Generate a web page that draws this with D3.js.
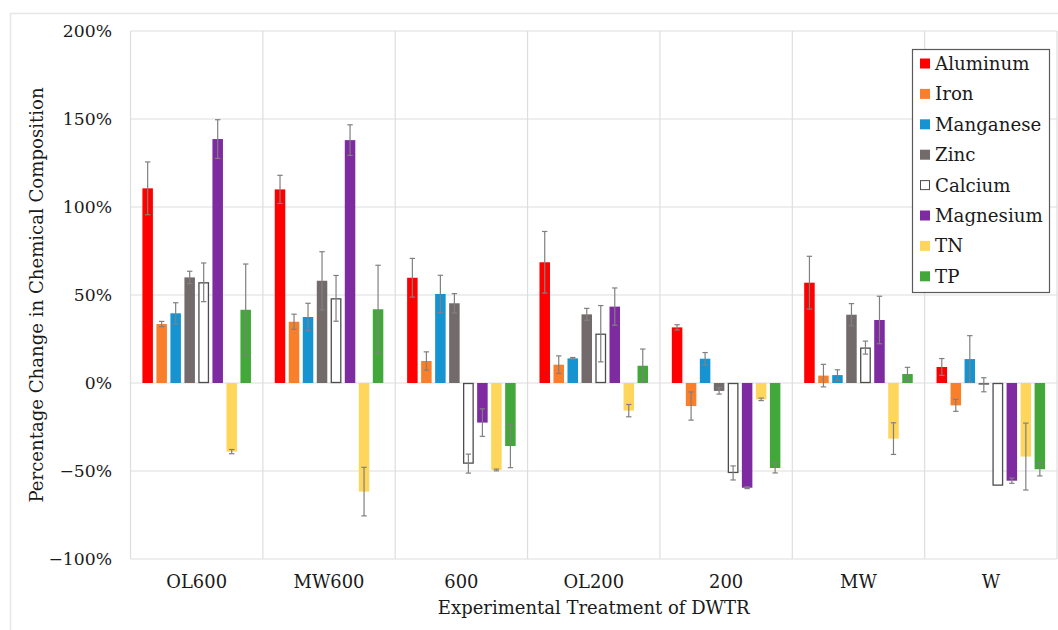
<!DOCTYPE html>
<html>
<head>
<meta charset="utf-8">
<script src="https://cdn.jsdelivr.net/npm/d3@7"></script>
<style>
  body { margin: 0; background: #ffffff; }
  text { font-family: "DejaVu Serif", serif; fill: #1a1a1a; }
</style>
</head>
<body>
<div class="chart"></div>
<script>
// Treatments along the x axis and the measured elements (series).
const treatments = ["OL600", "MW600", "600", "OL200", "200", "MW", "W"];
const elements = ["Aluminum", "Iron", "Manganese", "Zinc", "Calcium", "Magnesium", "TN", "TP"];
const colors = ["#ff0000", "#fa7f2a", "#1694d2", "#736b6b", "#ffffff", "#7e2aa0", "#ffd65c", "#43a83a"];

// Percentage change per element, one value per treatment (same order as treatments).
const aluminum  = [110.6, 110.0, 59.8, 68.6, 31.6, 57.0, 9.1];
const iron      = [33.5, 34.8, 12.5, 10.4, -13.1, 4.2, -12.7];
const manganese = [39.6, 37.5, 50.6, 14.0, 13.8, 4.5, 13.6];
const zinc      = [60.0, 58.1, 45.3, 39.0, -4.5, 38.8, -1.0];
const calcium   = [57.2, 48.1, -45.8, 28.0, -51.1, 20.1, -58.3];
const magnesium = [138.6, 138.0, -22.5, 43.4, -59.5, 35.8, -55.5];
const tn        = [-39.0, -61.7, -49.4, -15.7, -9.3, -31.6, -41.8];
const tp        = [41.6, 41.9, -35.8, 9.8, -48.3, 5.1, -49.0];

// Half-width of the error bars (standard deviation), same layout.
const aluminumErr  = [15.0, 8.0, 11.0, 17.5, 1.5, 15.0, 4.8];
const ironErr      = [1.5, 4.3, 5.2, 5.0, 8.0, 6.4, 3.4];
const manganeseErr = [6.0, 7.8, 10.6, 0.5, 3.5, 3.0, 13.3];
const zincErr      = [3.5, 16.5, 5.5, 3.4, 1.8, 6.3, 4.0];
const calciumErr   = [11.0, 13.0, 5.4, 16.0, 4.0, 3.7, 0.0];
const magnesiumErr = [11.0, 8.7, 7.8, 10.6, 0.5, 13.5, 1.5];
const tnErr        = [1.2, 13.8, 0.5, 3.5, 0.7, 9.0, 19.0];
const tpErr        = [26.0, 25.0, 12.3, 9.5, 2.8, 3.8, 3.8];

const yTicks = [-100, -50, 0, 50, 100, 150, 200];

const series = [aluminum, iron, manganese, zinc, calcium, magnesium, tn, tp];
const errors = [aluminumErr, ironErr, manganeseErr, zincErr, calciumErr, magnesiumErr, tnErr, tpErr];

const width = 1058, height = 630;
const margin = { top: 31, right: 1, bottom: 71, left: 130.5 };

const svg = d3.select(".chart")
  .append("svg")
  .attr("width", width)
  .attr("height", height)
  .attr("viewBox", [0, 0, width, height]);

// Light outer frame of the figure.
svg.append("rect")
  .attr("x", 10.5).attr("y", 13.5)
  .attr("width", width + 20).attr("height", height + 20)
  .attr("fill", "none")
  .attr("stroke", "#e6e6e6")
  .attr("stroke-width", 1.5);

const x0 = d3.scaleBand()
  .domain(treatments)
  .range([margin.left, width - margin.right]);

const x1 = d3.scaleBand()
  .domain(elements)
  .range([0, x0.bandwidth()])
  .paddingInner(0.25)
  .paddingOuter(0.85);

const y = d3.scaleLinear()
  .domain([-100, 200])
  .range([height - margin.bottom, margin.top]);

// Grid: horizontal lines at each tick, vertical lines between treatments.
const grid = svg.append("g").attr("stroke", "#dedede").attr("stroke-width", 1.2);
grid.selectAll(".hline")
  .data(yTicks)
  .join("line")
  .attr("class", "hline")
  .attr("x1", margin.left).attr("x2", width - margin.right)
  .attr("y1", d => y(d)).attr("y2", d => y(d));
grid.selectAll(".vline")
  .data(treatments.concat(["end"]))
  .join("line")
  .attr("class", "vline")
  .attr("x1", (d, i) => margin.left + i * x0.step())
  .attr("x2", (d, i) => margin.left + i * x0.step())
  .attr("y1", y(200)).attr("y2", y(-100));

// Y tick labels.
svg.append("g")
  .selectAll("text")
  .data(yTicks)
  .join("text")
  .attr("x", 112)
  .attr("y", d => y(d))
  .attr("dy", "0.36em")
  .attr("text-anchor", "end")
  .attr("font-size", "17.2px")
  .text(d => (d < 0 ? "\u2212" + Math.abs(d) : d) + "%");

// Bars grouped by treatment.
const groups = svg.append("g")
  .selectAll("g")
  .data(treatments)
  .join("g")
  .attr("transform", d => `translate(${x0(d)},0)`);

groups.each(function(t, ti) {
  const g = d3.select(this);
  elements.forEach((el, ei) => {
    const v = series[ei][ti];
    const isCalcium = el === "Calcium";
    g.append("rect")
      .attr("x", x1(el) + (isCalcium ? 0.5 : 0))
      .attr("y", Math.min(y(v), y(0)) + (isCalcium ? 0.5 : 0))
      .attr("width", x1.bandwidth() - (isCalcium ? 1 : 0))
      .attr("height", Math.abs(y(v) - y(0)) - (isCalcium ? 1 : 0))
      .attr("fill", colors[ei])
      .attr("stroke", isCalcium ? "#4d4d4d" : "none")
      .attr("stroke-width", isCalcium ? 1.3 : 0);
  });
  // Error bars drawn on top.
  elements.forEach((el, ei) => {
    const v = series[ei][ti];
    const e = errors[ei][ti];
    if (e <= 0) return;
    const cx = x1(el) + x1.bandwidth() / 2;
    const eb = g.append("g").attr("stroke", "#808080").attr("stroke-width", 1.2);
    eb.append("line")
      .attr("x1", cx).attr("x2", cx)
      .attr("y1", y(v + e)).attr("y2", y(v - e));
    [v + e, v - e].forEach(c => {
      eb.append("line")
        .attr("x1", cx - 2.7).attr("x2", cx + 2.7)
        .attr("y1", y(c)).attr("y2", y(c));
    });
  });
});

// Category labels under each group.
svg.append("g")
  .selectAll("text")
  .data(treatments)
  .join("text")
  .attr("x", d => x0(d) + x0.bandwidth() / 2)
  .attr("y", 582)
  .attr("dy", "0.36em")
  .attr("text-anchor", "middle")
  .attr("font-size", "17.9px")
  .text(d => d);

// Axis titles.
svg.append("text")
  .attr("x", (margin.left + width - margin.right) / 2)
  .attr("y", 608)
  .attr("dy", "0.36em")
  .attr("text-anchor", "middle")
  .attr("font-size", "18px")
  .text("Experimental Treatment of DWTR");

svg.append("text")
  .attr("transform", `translate(36,${(y(200) + y(-100)) / 2}) rotate(-90)`)
  .attr("dy", "0.36em")
  .attr("text-anchor", "middle")
  .attr("font-size", "18.1px")
  .text("Percentage Change in Chemical Composition");

// Legend box.
const legend = svg.append("g").attr("transform", "translate(912,49)");
legend.append("rect")
  .attr("x", 0.5).attr("y", 0.5)
  .attr("width", 137).attr("height", 243)
  .attr("fill", "#ffffff")
  .attr("stroke", "#5a5a5a")
  .attr("stroke-width", 1.2);
elements.forEach((el, i) => {
  const cy = 14.5 + i * 30.4;
  legend.append("rect")
    .attr("x", el === "Calcium" ? 8.5 : 8)
    .attr("y", cy - 5 + (el === "Calcium" ? 0.5 : 0))
    .attr("width", el === "Calcium" ? 9 : 10)
    .attr("height", el === "Calcium" ? 9 : 10)
    .attr("fill", colors[i])
    .attr("stroke", el === "Calcium" ? "#4d4d4d" : "none");
  legend.append("text")
    .attr("x", 23)
    .attr("y", cy)
    .attr("dy", "0.36em")
    .attr("font-size", "18.2px")
    .text(el);
});
</script>
</body>
</html>
